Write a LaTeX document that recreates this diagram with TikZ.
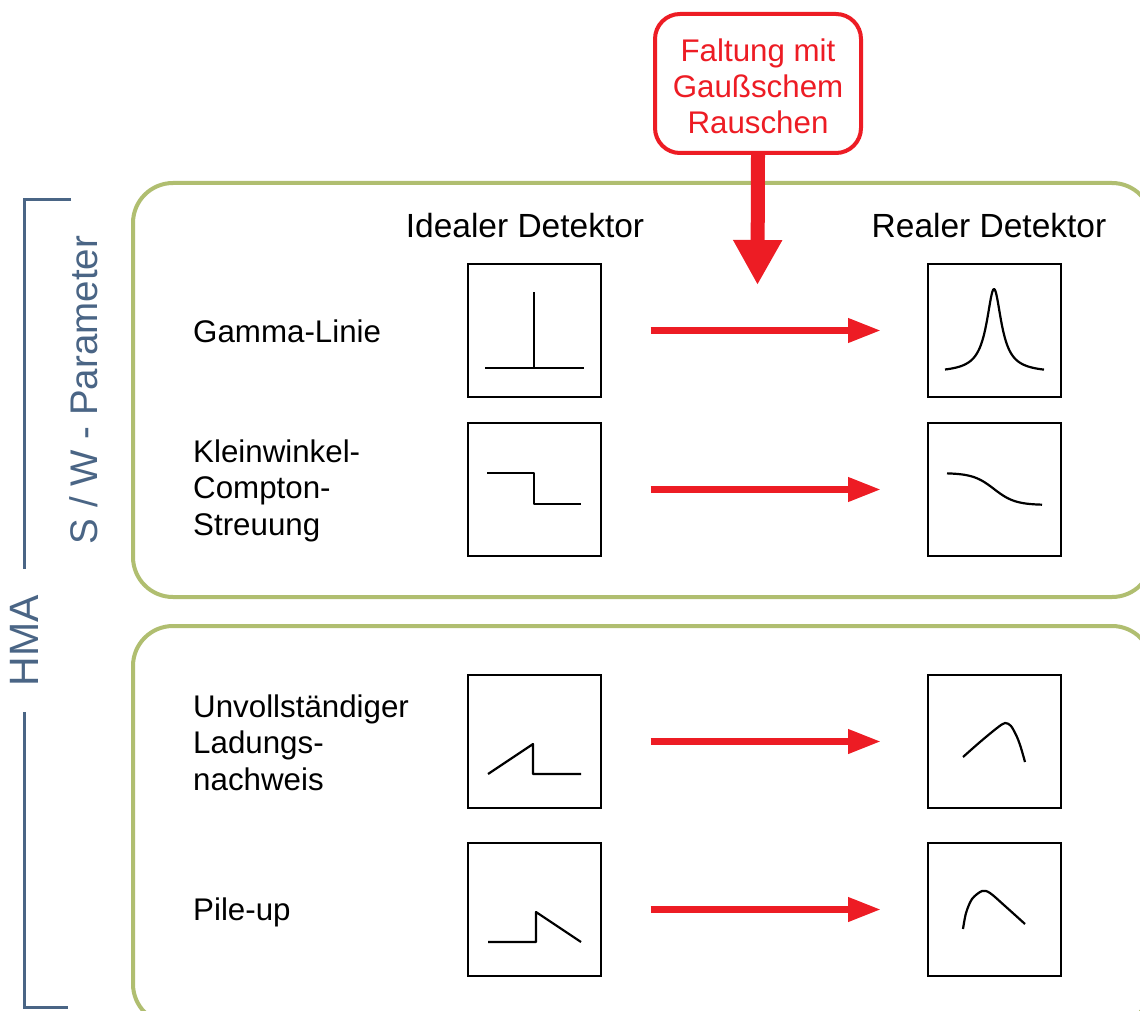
\documentclass[tikz,border=0pt]{standalone}
\usepackage{fontspec}
\setmainfont{Liberation Sans}
\usetikzlibrary{arrows.meta}
\definecolor{gbox}{RGB}{176,190,112}
\definecolor{bcol}{RGB}{74,101,133}
\definecolor{rcol}{RGB}{237,28,36}
\tikzset{
  groupbox/.style={draw=gbox, line width=4pt, rounded corners=40pt},
  plotbox/.style={draw=black, line width=2pt, minimum size=133pt, inner sep=0pt},
  curve/.style={draw=black, line width=2.2pt, line join=round},
  redarrow/.style={draw=rcol, line width=7pt, -{Triangle[length=33pt,width=23pt]}, shorten <=49pt, shorten >=46pt},
  lbl/.style={font=\fontsize{31.3}{36.5}\selectfont, align=left, inner sep=0pt},
  head/.style={font=\fontsize{33.5}{40}\selectfont, inner sep=0pt, anchor=base},
  bracket/.style={draw=bcol, line width=3pt},
  sidetxt/.style={text=bcol, rotate=90}
}
\begin{document}
\begin{tikzpicture}[x=1pt,y=-1pt]
\useasboundingbox (0,0) rectangle (1140,1011);
\clip (0,0) rectangle (1140,1011);
\fill[white] (0,0) rectangle (1140,1011);

% group boxes
\draw[groupbox] (133,183) rectangle (1152,597);
\draw[groupbox] (133,626) rectangle (1152,1024);

% bracket
\coordinate (btop) at (71,200);
\coordinate (bbot) at (68,1007);
\node[sidetxt, font=\fontsize{41}{48}\selectfont, inner xsep=26pt, inner ysep=0pt] (hma) at (24.5,640.5) {HMA};
\draw[bracket] (btop) -| (hma.east);
\draw[bracket] (hma.west) |- (bbot);
\node[sidetxt, font=\fontsize{38.5}{46}\selectfont, inner sep=0pt] (sw) at (84,390) {S / W - Parameter};

% headers
\node[head] (hideal) at (525,237) {Idealer Detektor};
\node[head] (hreal) at (989,237) {Realer Detektor};

% red box
\node[draw=rcol, line width=4pt, rounded corners=25pt, minimum width=206pt, minimum height=139pt,
      text=rcol, align=center, font=\fontsize{31.3}{36}\selectfont, inner sep=0pt] (rb) at (758,83.5)
      {\rule{0pt}{29pt}Faltung mit\\Gaußschem\\Rauschen};
\coordinate (rtip) at (757.5,285);
\draw[draw=rcol, line width=14pt, -{Triangle[length=45pt,width=46pt]}] (rb.south) -- (rtip);

% labels
\node[lbl, anchor=base west] (l1) at (193,342) {Gamma-Linie};
\node[lbl, anchor=base west] (l2) at (193,535) {Kleinwinkel-\\Compton-\\Streuung};
\node[lbl, anchor=base west] (l3) at (193,790) {Unvollständiger\\Ladungs-\\nachweis};
\node[lbl, anchor=base west] (l4) at (193,920) {Pile-up};

% plot boxes
\node[plotbox] (i1) at (534,330.5) {};
\node[plotbox] (i2) at (534,489.5) {};
\node[plotbox] (i3) at (534,741.5) {};
\node[plotbox] (i4) at (534,909.5) {};
\node[plotbox] (r1) at (994.5,330.5) {};
\node[plotbox] (r2) at (994.5,489.5) {};
\node[plotbox] (r3) at (994.5,741.5) {};
\node[plotbox] (r4) at (994.5,909.5) {};

% arrows
\draw[redarrow] (i1.east) -- (r1.west);
\draw[redarrow] (i2.east) -- (r2.west);
\draw[redarrow] (i3.east) -- (r3.west);
\draw[redarrow] (i4.east) -- (r4.west);

% ideal curves
\draw[curve] (485,368) -- (584,368);
\draw[curve] (534,292) -- (534,368);
\draw[curve] (487,473) -- (534,473) -- (534,504) -- (581,504);
\draw[curve] (488,774) -- (533,744) -- (533,774) -- (581,774);
\draw[curve] (488,942) -- (536,942) -- (536,912) -- (581,942);

% real curves
\draw[curve] plot[domain=945:1044, samples=120] (\x, {373 - 84/(1+((\x-994)/8.5)^2)^0.9});
\draw[curve] plot[domain=947:1042, samples=60] (\x, {489 + 16*tanh((\x-994)/21)});
\draw[curve] plot[smooth, tension=0.5] coordinates {(963,757) (980,742) (997,728) (1005,723) (1011,726) (1017,737) (1021,748) (1025,762)};
\draw[curve] plot[smooth, tension=0.5] coordinates {(963,929) (966,913) (972,899) (982,891) (990,893) (1005,906) (1025,924)};
\end{tikzpicture}
\end{document}
